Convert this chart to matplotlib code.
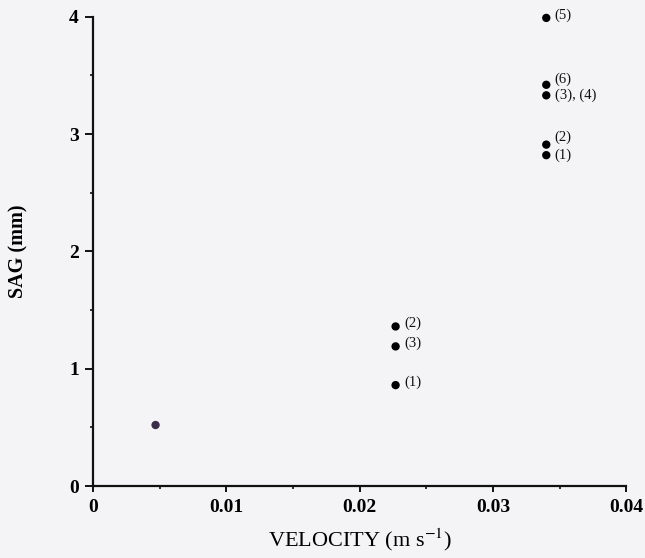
import matplotlib
matplotlib.use("Agg")
import matplotlib.pyplot as plt

# data
velocity = [0.0047, 0.0227, 0.0227, 0.0227, 0.034, 0.034, 0.034, 0.034, 0.034]
sag = [0.52, 0.86, 1.19, 1.36, 2.82, 2.91, 3.33, 3.42, 3.99]
point_labels = ['', '(1)', '(3)', '(2)', '(1)', '(2)', '(3), (4)', '(6)', '(5)']
label_dy = [0, 2, 2, 2, 0, 5, 0, 4, 2]  # vertical nudges for the labels (points)
point_colors = ['#3b2c4a'] + ['black'] * 8

xticks = [0, 0.01, 0.02, 0.03, 0.04]
xticklabels = ['0', '0.01', '0.02', '0.03', '0.04']
yticks = [0, 1, 2, 3, 4]

bg = '#f4f4f6'
plt.rcParams['font.family'] = ['Liberation Serif', 'DejaVu Serif']
plt.rcParams['mathtext.fontset'] = 'stix'

fig = plt.figure(figsize=(6.45, 5.58), dpi=100, facecolor=bg)
ax = fig.add_axes([0.144, 0.129, 0.827, 0.841], facecolor=bg)

ax.scatter(velocity, sag, s=36, c=point_colors, edgecolors='none', zorder=3, clip_on=False)
for x, y, lab, dy in zip(velocity, sag, point_labels, label_dy):
    if lab:
        ax.annotate(lab, (x, y), xytext=(6, dy), textcoords='offset points',
                    ha='left', va='center', fontsize=10.5, color='#111111')

ax.set_xlim(0, 0.04)
ax.set_ylim(0, 4)
ax.set_xticks(xticks)
ax.set_xticklabels(xticklabels)
ax.set_yticks(yticks)
ax.set_xticks([0.005, 0.015, 0.025, 0.035], minor=True)
ax.set_yticks([0.5, 1.5, 2.5, 3.5], minor=True)

for s in ['top', 'right']:
    ax.spines[s].set_visible(False)
for s in ['left', 'bottom']:
    ax.spines[s].set_linewidth(1.6)
    ax.spines[s].set_color('#111111')

ax.tick_params(axis='both', which='major', labelsize=14, width=1.4, color='#111111')
ax.tick_params(axis='y', which='major', length=6, direction='out', pad=4)
ax.tick_params(axis='x', which='major', length=4, direction='out', pad=5)
ax.tick_params(axis='both', which='minor', length=2, width=1.2, direction='out', color='#111111')
for t in ax.get_xticklabels() + ax.get_yticklabels():
    t.set_fontweight('bold')

ax.set_xlabel('VELOCITY (m s$^{-1}$)', fontsize=16, labelpad=8)
ax.set_ylabel('SAG (mm)', fontsize=14.5, fontweight='bold', labelpad=29)

fig.savefig('out.png', dpi=100, facecolor=bg)
